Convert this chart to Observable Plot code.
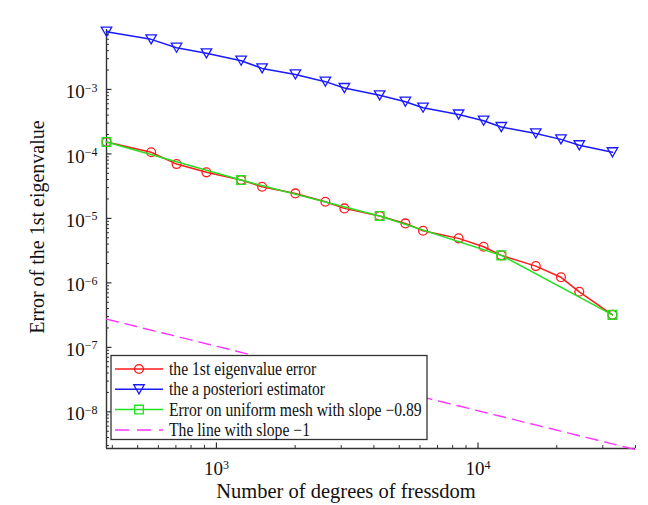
<!DOCTYPE html>
<html><head><meta charset="utf-8">
<script src="https://cdn.jsdelivr.net/npm/d3@7"></script>
<script src="https://cdn.jsdelivr.net/npm/@observablehq/plot@0.6"></script>
<style>
html,body{margin:0;padding:0;background:#fff;}
#chart svg{display:block;}
</style>
</head><body><div id="chart"></div>
<script>
// ---- data ----
const dof = [380, 563, 704, 916, 1243, 1495, 2004, 2609, 3084, 4207, 5277, 6164, 8431, 10505, 12275, 16630, 20760, 24390, 32660];
const errEigen = [1.53e-4, 1.06e-4, 6.96e-5, 5.18e-5, 3.93e-5, 3.09e-5, 2.44e-5, 1.81e-5, 1.43e-5, 1.09e-5, 8.36e-6, 6.42e-6, 4.90e-6, 3.63e-6, 2.67e-6, 1.82e-6, 1.22e-6, 7.27e-7, 3.19e-7];
const estimator = [7.85e-3, 5.98e-3, 4.43e-3, 3.63e-3, 2.79e-3, 2.12e-3, 1.71e-3, 1.32e-3, 1.05e-3, 8.10e-4, 6.44e-4, 5.20e-4, 4.08e-4, 3.27e-4, 2.61e-4, 2.08e-4, 1.68e-4, 1.36e-4, 1.06e-4];
const dofUniform = [380, 1243, 4207, 12275, 32660];
const errUniform = [1.53e-4, 3.93e-5, 1.09e-5, 2.67e-6, 3.19e-7];
const refDof = [380, 40000];
const refErr = [2.74e-7, 2.6e-9];
const xDomain = [380, 40000];
const yDomain = [2.7e-9, 8.5e-3];
const xTicks = [1e3, 1e4];
const xTickLabels = ["10^3", "10^4"];
const yTicks = [1e-8, 1e-7, 1e-6, 1e-5, 1e-4, 1e-3];
const yTickLabels = ["10^\u22128", "10^\u22127", "10^\u22126", "10^\u22125", "10^\u22124", "10^\u22123"];
const seriesNames = ["the 1st eigenvalue error", "the a posteriori estimator", "Error on uniform mesh with slope \u22120.89", "The line with slope \u22121"];
const seriesColors = ["#ff1a1a", "#1a1aff", "#22e022", "#ff33ff"];
const xTitle = "Number of degrees of fressdom";
const yTitle = "Error of the 1st eigenvalue";

// ---- tables ----
const eigenRows = dof.map((x, i) => ({x, y: errEigen[i]}));
const estRows = dof.map((x, i) => ({x, y: estimator[i]}));
const uniRows = dofUniform.map((x, i) => ({x, y: errUniform[i]}));
const refRows = refDof.map((x, i) => ({x, y: refErr[i]}));

const yMinor = [];
for (let e = -9; e <= -3; e++) for (let m = 2; m <= 9; m++) { const v = m * Math.pow(10, e); if (v >= yDomain[0] && v <= yDomain[1]) yMinor.push(v); }
const xMinor = [];
for (let e = 2; e <= 4; e++) for (let m = 2; m <= 9; m++) { const v = m * Math.pow(10, e); if (v >= xDomain[0] && v <= xDomain[1]) xMinor.push(v); }

const W = 648, H = 505, ML = 106, MR = 13, MT = 29, MB = 57;
const PW = W - ML - MR, PH = H - MT - MB;
const FONT = "'Liberation Serif', 'Times New Roman', serif";
const AX = "#333";

const triDown = {
  draw(ctx, size) {
    const s = Math.sqrt(size * 4 / Math.sqrt(3)), h = s * Math.sqrt(3) / 2;
    ctx.moveTo(0, h / 2); ctx.lineTo(-s / 2, -h / 2); ctx.lineTo(s / 2, -h / 2); ctx.closePath();
  }
};

const chart = Plot.plot({
  width: W, height: H,
  marginLeft: ML, marginRight: MR, marginTop: MT, marginBottom: MB,
  style: {background: "#fff", fontFamily: FONT, color: "#111"},
  x: {type: "log", domain: xDomain, label: null},
  y: {type: "log", domain: yDomain, label: null},
  marks: [
    Plot.tickY(yTicks, {y: d => d, stroke: AX, strokeWidth: 1.2, insetRight: PW - 5.5}),
    Plot.tickY(yMinor, {y: d => d, stroke: AX, strokeWidth: 1, insetRight: PW - 3}),
    Plot.tickX(xTicks, {x: d => d, stroke: AX, strokeWidth: 1.2, insetTop: PH - 5.5}),
    Plot.tickX(xMinor, {x: d => d, stroke: AX, strokeWidth: 1, insetTop: PH - 3}),
    Plot.ruleX([xDomain[0]], {stroke: AX, strokeWidth: 1.4}),
    Plot.ruleY([yDomain[0]], {stroke: AX, strokeWidth: 1.4}),
    Plot.axisX(xTicks, {tickSize: 0, tickPadding: 13, label: null, fontSize: 19, tickFormat: d => xTickLabels[xTicks.indexOf(d)]}),
    Plot.axisY(yTicks, {anchor: "left", tickSize: 0, tickPadding: 9, dy: 2.5, label: null, fontSize: 19, tickFormat: d => yTickLabels[yTicks.indexOf(d)]}),
    Plot.line(refRows, {x: "x", y: "y", stroke: seriesColors[3], strokeWidth: 1.4, strokeDasharray: "12,7"}),
    Plot.line(eigenRows, {x: "x", y: "y", stroke: seriesColors[0], strokeWidth: 1.5}),
    Plot.dot(eigenRows, {x: "x", y: "y", stroke: seriesColors[0], strokeWidth: 1.3, r: 4.4, symbol: "circle", fill: "none"}),
    Plot.line(estRows, {x: "x", y: "y", stroke: seriesColors[1], strokeWidth: 1.5}),
    Plot.dot(estRows, {x: "x", y: "y", stroke: seriesColors[1], strokeWidth: 1.3, r: 3.9, symbol: triDown, fill: "none"}),
    Plot.line(uniRows, {x: "x", y: "y", stroke: seriesColors[2], strokeWidth: 1.5}),
    Plot.dot(uniRows, {x: "x", y: "y", stroke: seriesColors[2], strokeWidth: 1.4, r: 4.9, symbol: "square", fill: "none"})
  ]
});
document.getElementById("chart").appendChild(chart);

// superscript tick labels
const svg = d3.select(chart);
svg.selectAll('g[aria-label="x-axis tick label"] text, g[aria-label="y-axis tick label"] text').each(function() {
  const t = this.textContent;
  const parts = t.split("^");
  if (parts.length !== 2) return;
  const el = d3.select(this);
  el.text(parts[0]);
  el.append("tspan").attr("dy", -6.5).attr("font-size", 12).text(parts[1]);
});

// axis titles
svg.append("text").attr("transform", `translate(44, 227) rotate(-90)`)
  .attr("text-anchor", "middle").attr("font-family", FONT).attr("font-size", 20).attr("fill", "#111").text(yTitle);
svg.append("text").attr("x", 346).attr("y", 498)
  .attr("text-anchor", "middle").attr("font-family", FONT).attr("font-size", 20.5).attr("fill", "#111").text(xTitle);

// legend
const lg = svg.append("g");
lg.append("rect").attr("x", 111).attr("y", 355.5).attr("width", 316).attr("height", 84)
  .attr("fill", "#fff").attr("stroke", AX).attr("stroke-width", 1.3);
const symDefs = [
  {type: d3.symbolCircle, size: Math.PI * 4.4 * 4.4},
  {type: triDown, size: Math.PI * 3.9 * 3.9},
  {type: d3.symbolSquare, size: Math.PI * 4.9 * 4.9},
  null
];
seriesNames.forEach((name, i) => {
  const yy = 369 + i * 20.3;
  const ln = lg.append("line").attr("x1", 115).attr("x2", 163).attr("y1", yy).attr("y2", yy)
    .attr("stroke", seriesColors[i]).attr("stroke-width", 1.5);
  if (i === 3) ln.attr("stroke-dasharray", "14,8");
  if (symDefs[i]) {
    lg.append("path").attr("d", d3.symbol(symDefs[i].type, symDefs[i].size)())
      .attr("transform", `translate(139,${yy})`).attr("fill", "none")
      .attr("stroke", seriesColors[i]).attr("stroke-width", 1.3);
  }
  lg.append("text").attr("transform", `translate(169,${yy + 6}) scale(0.87,1)`)
    .attr("text-anchor", "start")
    .attr("font-family", FONT).attr("font-size", 18).attr("fill", "#111").text(name);
});
</script>
</body></html>
